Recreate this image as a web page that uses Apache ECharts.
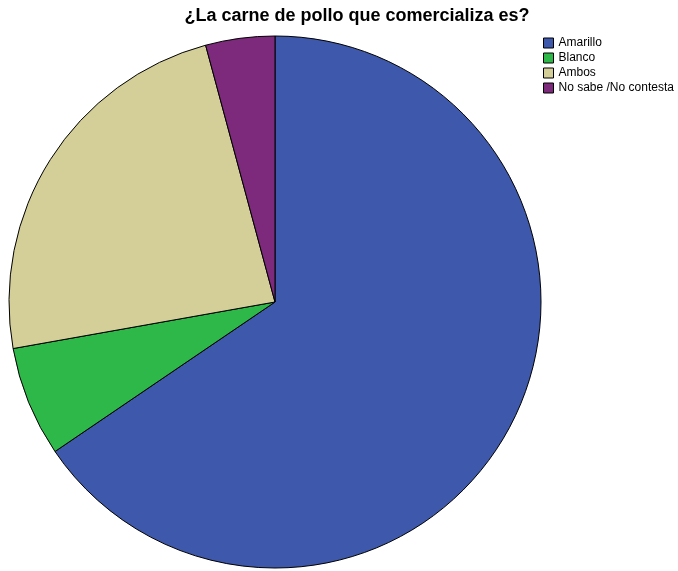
<!DOCTYPE html>
<html><head><meta charset="utf-8">
<script src="https://cdn.jsdelivr.net/npm/echarts@6/dist/echarts.min.js"></script>
<style>html,body{margin:0;padding:0;background:#fff}#c{width:678px;height:571px}</style>
</head><body><div id="c"></div>
<script>
const categories = ["Amarillo", "Blanco", "Ambos", "No sabe /No contesta"];
const values = [65.5, 6.7, 23.6, 4.2];
const colors = ["#3e58ab", "#2fb84a", "#d4cf98", "#7d2a7c"];
const titleText = "¿La carne de pollo que comercializa es?";

const chart = echarts.init(document.getElementById('c'), null, {renderer: 'canvas'});
chart.setOption({
  animation: false,
  backgroundColor: '#ffffff',
  title: {
    text: titleText, left: 357, top: 7, textAlign: 'center', padding: 0,
    textStyle: {fontFamily: 'Liberation Sans, Arial', fontSize: 18, fontWeight: 'bold', color: '#000'}
  },
  legend: {
    orient: 'vertical', left: 543, top: 37, padding: 0,
    itemWidth: 10, itemHeight: 10, itemGap: 3,
    icon: 'rect',
    itemStyle: {borderColor: '#000', borderWidth: 1},
    textStyle: {fontFamily: 'Liberation Sans, Arial', fontSize: 12, color: '#000'},
    data: categories
  },
  series: [{
    type: 'pie',
    center: [275, 302],
    radius: 266,
    startAngle: 90,
    clockwise: true,
    label: {show: false},
    labelLine: {show: false},
    emphasis: {disabled: true},
    itemStyle: {borderColor: '#000', borderWidth: 1},
    data: categories.map((c, i) => ({name: c, value: values[i], itemStyle: {color: colors[i]}}))
  }]
});
</script></body></html>
